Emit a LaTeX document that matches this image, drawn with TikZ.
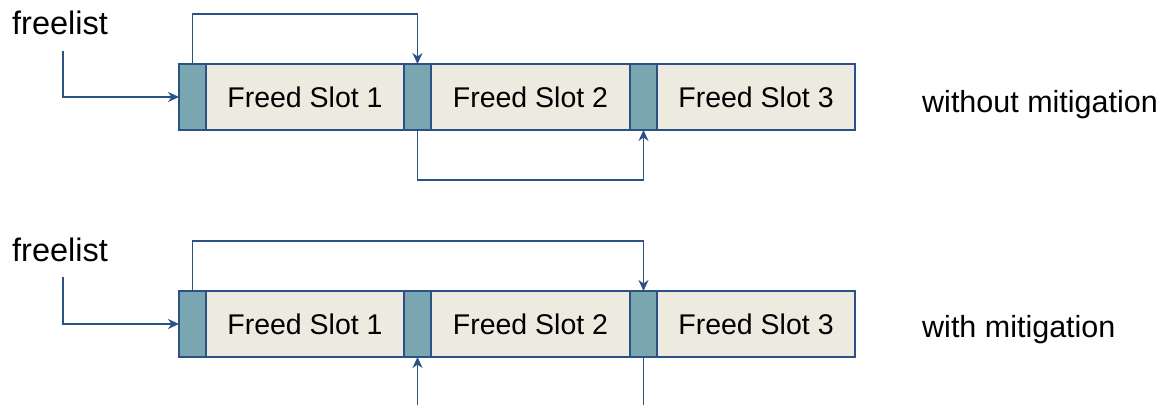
\documentclass[tikz,border=0pt]{standalone}
\usepackage{fontspec}
\setmainfont{Liberation Sans}
\usetikzlibrary{arrows.meta}
\definecolor{bordc}{HTML}{2B5187}
\definecolor{hdrc}{HTML}{79A6B1}
\definecolor{slotc}{HTML}{EDEBE0}
\begin{document}
\begin{tikzpicture}[x=1pt,y=-1pt,
  slotbox/.style={draw=bordc, line width=2pt, fill=slotc, minimum height=66pt, inner sep=0pt, outer sep=0pt, font=\fontsize{28.5}{32}\selectfont},
  hdr/.style={draw=bordc, line width=2pt, fill=hdrc, minimum width=27pt, minimum height=66pt, inner sep=0pt, outer sep=0pt},
  link/.style={draw=bordc, line width=1.6pt, -{Stealth[length=11pt,width=10pt,inset=3.5pt]}},
  plainlink/.style={draw=bordc, line width=1.6pt},
  fltext/.style={anchor=base west, inner sep=0pt, font=\fontsize{32.5}{36}\selectfont},
  sidetext/.style={anchor=base west, inner sep=0pt, font=\fontsize{30.5}{34}\selectfont}]
\useasboundingbox (0,0) rectangle (1161,405);
% top row
\node[slotbox, minimum width=198pt] (s1a) at (305,97) {Freed Slot 1};
\node[slotbox, minimum width=199pt] (s2a) at (530.5,97) {Freed Slot 2};
\node[slotbox, minimum width=198pt] (s3a) at (756,97) {Freed Slot 3};
\node[hdr] (h1a) at (192.5,97) {};
\node[hdr] (h2a) at (417.5,97) {};
\node[hdr] (h3a) at (643.5,97) {};
\node[fltext] (fl1) at (12,34) {freelist};
\node[sidetext] (lab1) at (922,112) {without mitigation};
\coordinate (fs1) at (63,51);
\draw[link] (fs1) |- (h1a.west);
\draw[link] (h1a.north) -- ([yshift=50pt]h1a.north) -| (h2a.north);
\draw[link] (h2a.south) -- ([yshift=-50pt]h2a.south) -| (h3a.south);
% bottom row
\node[slotbox, minimum width=198pt] (s1b) at (305,324) {Freed Slot 1};
\node[slotbox, minimum width=199pt] (s2b) at (530.5,324) {Freed Slot 2};
\node[slotbox, minimum width=198pt] (s3b) at (756,324) {Freed Slot 3};
\node[hdr] (h1b) at (192.5,324) {};
\node[hdr] (h2b) at (417.5,324) {};
\node[hdr] (h3b) at (643.5,324) {};
\node[fltext] (fl2) at (12,261.5) {freelist};
\node[sidetext] (lab2) at (922,337) {with mitigation};
\coordinate (fs2) at (63,277);
\draw[link] (fs2) |- (h1b.west);
\draw[link] (h1b.north) -- ([yshift=50pt]h1b.north) -| (h3b.north);
\coordinate (in2) at (417.5,405);
\coordinate (out3) at (643.5,405);
\draw[link] (in2) -- (h2b.south);
\draw[plainlink] (h3b.south) -- (out3);
\end{tikzpicture}
\end{document}
